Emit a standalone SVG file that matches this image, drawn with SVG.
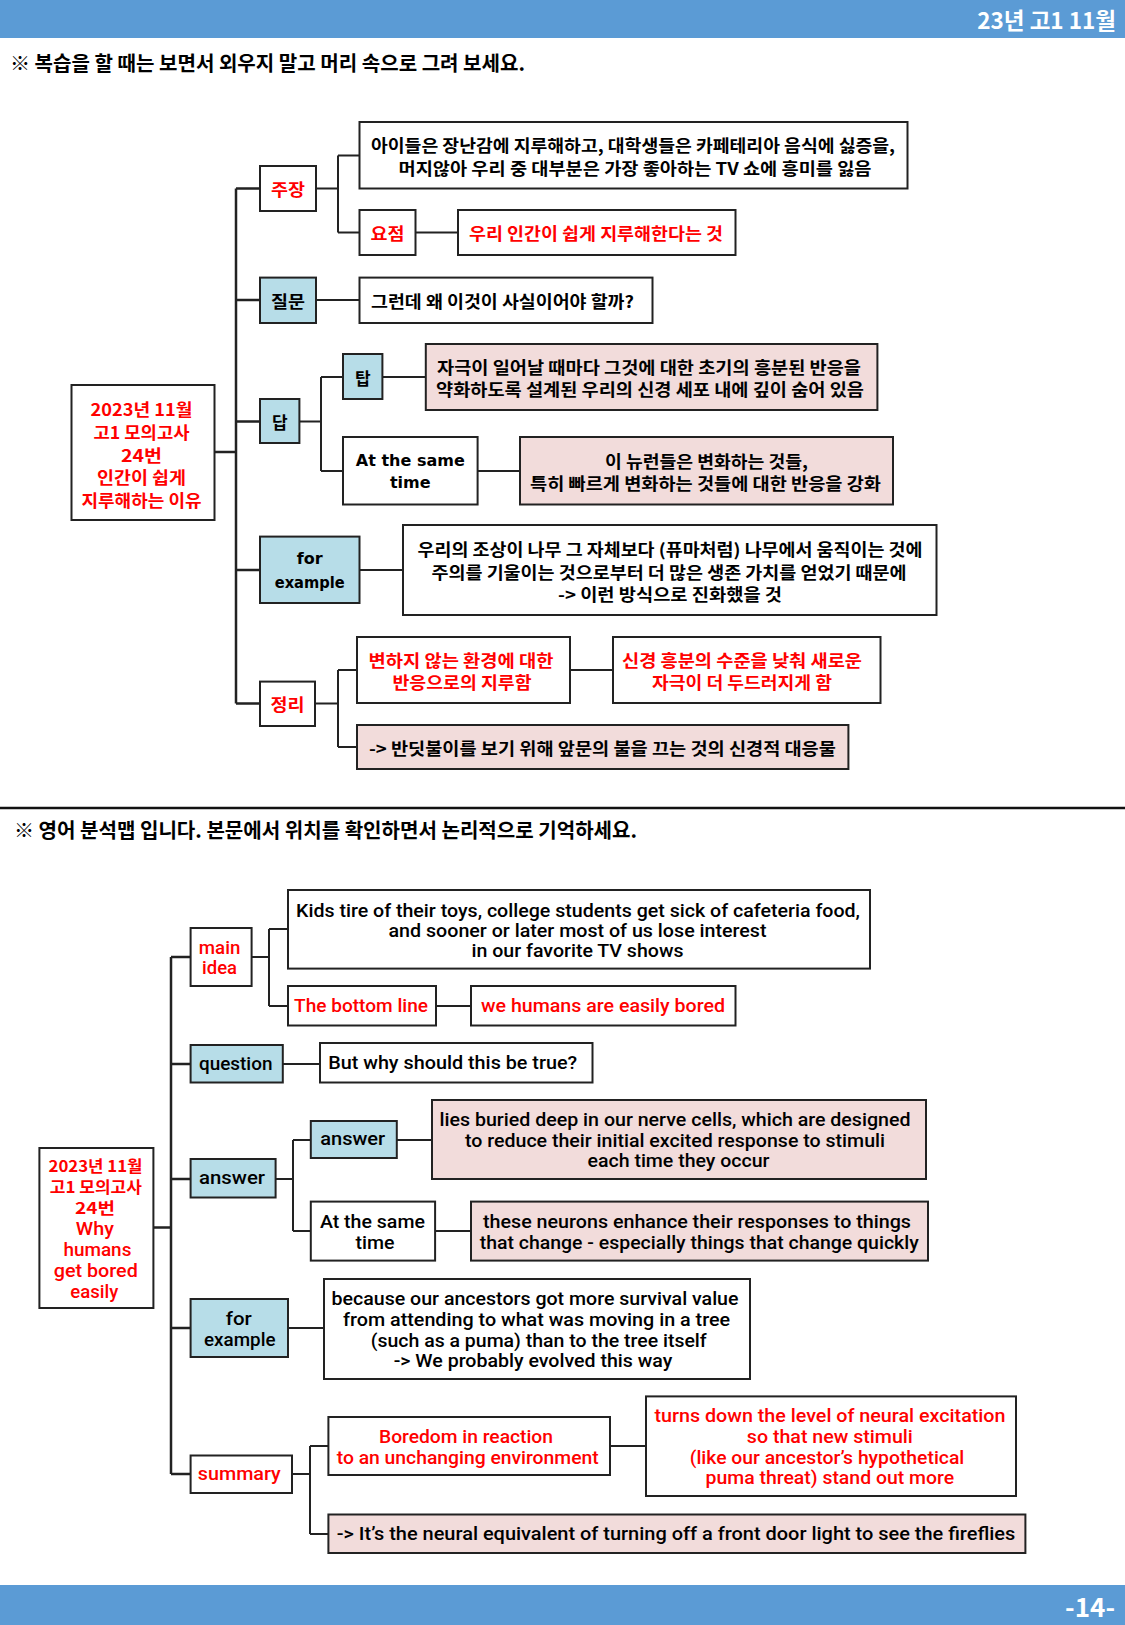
<svg xmlns="http://www.w3.org/2000/svg" width="1125" height="1625" viewBox="0 0 1125 1625">
<style>
.b{fill:#fff;stroke:#222;stroke-width:2}
.bl{fill:#B7DDE8}
.pk{fill:#F2DCDB}
.t{font-family:"Noto Sans CJK KR","Noto Sans",sans-serif;font-weight:700;font-size:17px;text-anchor:middle;dominant-baseline:central;fill:#000}
.e{font-family:Roboto,"Noto Sans","Noto Sans CJK KR",sans-serif;font-weight:500;font-size:18.5px;text-anchor:middle;dominant-baseline:central;fill:#000}
.c{font-family:"DejaVu Sans",sans-serif;font-weight:700;font-size:16px;text-anchor:middle;dominant-baseline:central;fill:#000}
.r{fill:#FF0000}
.cn{stroke:#222;stroke-width:2;fill:none}
.hd{font-family:"Noto Sans CJK KR",sans-serif;font-weight:700;fill:#000}
</style>
<rect x="0" y="0" width="1125" height="38" fill="#5B9BD5"/>
<text x="1116" y="19" class="hd" style="fill:#fff;font-size:22.5px;text-anchor:end;dominant-baseline:central">23년 고1 11월</text>
<text x="10" y="62" class="hd" style="font-size:20px;dominant-baseline:central" textLength="515" lengthAdjust="spacingAndGlyphs">※ 복습을 할 때는 보면서 외우지 말고 머리 속으로 그려 보세요.</text>

<g id="connectors">
<path class="cn" d="M214.5 452H236M236 188.5V703.5M236 188.5H260M236 300H260M236 421.6H260M236 570H260M236 703.5H260" style="stroke-width:2.5"/>
<path class="cn" d="M316 188.5H338M338 155.4V232.5M338 155.4H359.5M338 232.5H359.5M415.5 232.5H458"/>
<path class="cn" d="M316 300H359.5"/>
<path class="cn" d="M299.4 421.6H321M321 377V471M321 377H343M321 471H343M382.4 377H425.8M477.6 471H520"/>
<path class="cn" d="M359.5 570H403"/>
<path class="cn" d="M315 703.5H338M338 670V747M338 670H357M338 747H357M570 670H613"/>
<line x1="0" y1="808" x2="1125" y2="808" stroke="#111" stroke-width="2.5"/>
<path class="cn" d="M153.3 1227.5H171M171 957V1474M171 957H190.6M171 1064H190.6M171 1179H190.6M171 1328H190.6M171 1474H190.6" style="stroke-width:2.5"/>
<path class="cn" d="M251.7 957H269M269 929V1006M269 929H288M269 1006H288M436 1006H471"/>
<path class="cn" d="M282.8 1064H320"/>
<path class="cn" d="M275.5 1179H293M293 1140V1231M293 1140H310.8M293 1231H310.8M396.7 1140H432M435 1231H471"/>
<path class="cn" d="M288 1328H324"/>
<path class="cn" d="M292 1474H310M310 1446V1534M310 1446H328.4M310 1534H328.4M610 1446H646"/>
</g>

<g id="root1"><rect class="b" x="71.5" y="385" width="143" height="135"/>
<text class="t r" x="141.5" y="408" textLength="102" lengthAdjust="spacingAndGlyphs">2023년 11월</text><text class="t r" x="141.5" y="431" textLength="96" lengthAdjust="spacingAndGlyphs">고1 모의고사</text><text class="t r" x="141.5" y="454" textLength="41" lengthAdjust="spacingAndGlyphs">24번</text><text class="t r" x="141.5" y="476.5" textLength="89" lengthAdjust="spacingAndGlyphs">인간이 쉽게</text><text class="t r" x="141.5" y="499" textLength="120" lengthAdjust="spacingAndGlyphs">지루해하는 이유</text></g>

<g id="n-jujang"><rect class="b" x="260" y="166" width="56" height="45"/><text class="t r" x="288" y="188.5" textLength="34" lengthAdjust="spacingAndGlyphs">주장</text></g>
<g id="n-jujang-1"><rect class="b" x="359.5" y="122" width="548" height="66.5"/>
<text class="t" x="633" y="144" textLength="524" lengthAdjust="spacingAndGlyphs">아이들은 장난감에 지루해하고, 대학생들은 카페테리아 음식에 싫증을,</text><text class="t" x="635" y="167" textLength="473" lengthAdjust="spacingAndGlyphs">머지않아 우리 중 대부분은 가장 좋아하는 TV 쇼에 흥미를 잃음</text></g>
<g id="n-yojeom"><rect class="b" x="359.5" y="210" width="56" height="45"/><text class="t r" x="387.5" y="232.5" textLength="34" lengthAdjust="spacingAndGlyphs">요점</text></g>
<g id="n-yojeom-1"><rect class="b" x="458" y="210" width="277.5" height="45"/><text class="t r" x="596" y="232.5" textLength="254" lengthAdjust="spacingAndGlyphs">우리 인간이 쉽게 지루해한다는 것</text></g>

<g id="n-jilmun"><rect class="b bl" x="260" y="277.6" width="56" height="45.4"/><text class="t" x="288" y="300" textLength="34" lengthAdjust="spacingAndGlyphs">질문</text></g>
<g id="n-jilmun-1"><rect class="b" x="359.5" y="277.6" width="293" height="45.4"/><text class="t" x="502.5" y="300" textLength="263" lengthAdjust="spacingAndGlyphs">그런데 왜 이것이 사실이어야 할까?</text></g>

<g id="n-dap"><rect class="b bl" x="260" y="399" width="39.4" height="44"/><text class="t" x="279.7" y="421.6">답</text></g>
<g id="n-tap"><rect class="b bl" x="343" y="354" width="39.4" height="45"/><text class="t" x="362.7" y="377">탑</text></g>
<g id="n-tap-1"><rect class="b pk" x="425.8" y="344" width="451.6" height="66"/>
<text class="t" x="649" y="366" textLength="424" lengthAdjust="spacingAndGlyphs">자극이 일어날 때마다 그것에 대한 초기의 흥분된 반응을</text><text class="t" x="650" y="388.6" textLength="428" lengthAdjust="spacingAndGlyphs">약화하도록 설계된 우리의 신경 세포 내에 깊이 숨어 있음</text></g>
<g id="n-same1"><rect class="b" x="343" y="437" width="134.6" height="67.5"/>
<text class="c" x="410.3" y="460">At the same</text><text class="c" x="410.3" y="482.7">time</text></g>
<g id="n-same1-1"><rect class="b pk" x="520" y="437" width="373" height="67.5"/>
<text class="t" x="706.5" y="460" textLength="203" lengthAdjust="spacingAndGlyphs">이 뉴런들은 변화하는 것들,</text><text class="t" x="705.5" y="482.7" textLength="351" lengthAdjust="spacingAndGlyphs">특히 빠르게 변화하는 것들에 대한 반응을 강화</text></g>

<g id="n-ex1"><rect class="b bl" x="260" y="536.6" width="99.5" height="66.4"/>
<text class="c" x="309.7" y="558.5">for</text><text class="c" x="309.7" y="582" textLength="70" lengthAdjust="spacingAndGlyphs">example</text></g>
<g id="n-ex1-1"><rect class="b" x="403" y="525" width="533.5" height="90"/>
<text class="t" x="670" y="548" textLength="505" lengthAdjust="spacingAndGlyphs">우리의 조상이 나무 그 자체보다 (퓨마처럼) 나무에서 움직이는 것에</text><text class="t" x="669" y="571" textLength="475" lengthAdjust="spacingAndGlyphs">주의를 기울이는 것으로부터 더 많은 생존 가치를 얻었기 때문에</text><text class="t" x="670" y="593.6" textLength="224" lengthAdjust="spacingAndGlyphs">-&gt; 이런 방식으로 진화했을 것</text></g>

<g id="n-jeongri"><rect class="b" x="260" y="681.6" width="55" height="44.4"/><text class="t r" x="287.5" y="703.5" textLength="34" lengthAdjust="spacingAndGlyphs">정리</text></g>
<g id="n-jeongri-1"><rect class="b" x="357" y="637" width="213" height="66"/>
<text class="t r" x="461" y="659" textLength="185" lengthAdjust="spacingAndGlyphs">변하지 않는 환경에 대한</text><text class="t r" x="462" y="681.6" textLength="139" lengthAdjust="spacingAndGlyphs">반응으로의 지루함</text></g>
<g id="n-jeongri-2"><rect class="b" x="613" y="637" width="267.5" height="66"/>
<text class="t r" x="742" y="659" textLength="240" lengthAdjust="spacingAndGlyphs">신경 흥분의 수준을 낮춰 새로운</text><text class="t r" x="742" y="681.6" textLength="180" lengthAdjust="spacingAndGlyphs">자극이 더 두드러지게 함</text></g>
<g id="n-jeongri-3"><rect class="b pk" x="357" y="725" width="491.4" height="44"/><text class="t" x="602.4" y="747" textLength="467" lengthAdjust="spacingAndGlyphs">-&gt; 반딧불이를 보기 위해 앞문의 불을 끄는 것의 신경적 대응물</text></g>

<text x="14" y="829" class="hd" style="font-size:20px;dominant-baseline:central" textLength="623" lengthAdjust="spacingAndGlyphs">※ 영어 분석맵 입니다. 본문에서 위치를 확인하면서 논리적으로 기억하세요.</text>

<g id="root2"><rect class="b" x="39.4" y="1148" width="114" height="160"/>
<text class="t r" x="95.5" y="1165" style="font-size:16px" textLength="94" lengthAdjust="spacingAndGlyphs">2023년 11월</text><text class="t r" x="95.8" y="1186.2" style="font-size:16px" textLength="92" lengthAdjust="spacingAndGlyphs">고1 모의고사</text><text class="t r" x="95" y="1207.4" style="font-size:16px" textLength="40" lengthAdjust="spacingAndGlyphs">24번</text><text class="e r" x="94.8" y="1228.6" style="font-size:17.5px" textLength="38" lengthAdjust="spacingAndGlyphs">Why</text><text class="e r" x="97.4" y="1249.8" style="font-size:17.5px" textLength="68" lengthAdjust="spacingAndGlyphs">humans</text><text class="e r" x="95.8" y="1271" style="font-size:17.5px" textLength="84" lengthAdjust="spacingAndGlyphs">get bored</text><text class="e r" x="94.3" y="1292.2" style="font-size:17.5px" textLength="48" lengthAdjust="spacingAndGlyphs">easily</text></g>

<g id="n-main"><rect class="b" x="190.6" y="928" width="61" height="58"/><text class="e r" x="219.6" y="948" textLength="41.5" lengthAdjust="spacingAndGlyphs">main</text><text class="e r" x="219.6" y="968" textLength="35" lengthAdjust="spacingAndGlyphs">idea</text></g>
<g id="n-main-1"><rect class="b" x="288" y="890" width="582" height="78.6"/>
<text class="e" x="578" y="910.6" textLength="564" lengthAdjust="spacingAndGlyphs">Kids tire of their toys, college students get sick of cafeteria food,</text><text class="e" x="577.5" y="930.5" textLength="378" lengthAdjust="spacingAndGlyphs">and sooner or later most of us lose interest</text><text class="e" x="577.5" y="951" textLength="212" lengthAdjust="spacingAndGlyphs">in our favorite TV shows</text></g>
<g id="n-bottom"><rect class="b" x="288" y="986" width="148" height="39.5"/><text class="e r" x="361" y="1006" textLength="134" lengthAdjust="spacingAndGlyphs">The bottom line</text></g>
<g id="n-bottom-1"><rect class="b" x="471" y="986" width="264.5" height="39.5"/><text class="e r" x="603" y="1006" textLength="244" lengthAdjust="spacingAndGlyphs">we humans are easily bored</text></g>

<g id="n-question"><rect class="b bl" x="190.6" y="1045" width="92.2" height="37.5"/><text class="e" x="235.7" y="1064" textLength="73.5" lengthAdjust="spacingAndGlyphs">question</text></g>
<g id="n-question-1"><rect class="b" x="320" y="1043" width="272.5" height="39.5"/><text class="e" x="452.7" y="1063" textLength="249" lengthAdjust="spacingAndGlyphs">But why should this be true?</text></g>

<g id="n-answer"><rect class="b bl" x="190.6" y="1159" width="85" height="38.5"/><text class="e" x="232" y="1178" textLength="66" lengthAdjust="spacingAndGlyphs">answer</text></g>
<g id="n-answer2"><rect class="b bl" x="310.8" y="1121" width="86" height="37"/><text class="e" x="352.7" y="1139" textLength="65" lengthAdjust="spacingAndGlyphs">answer</text></g>
<g id="n-answer2-1"><rect class="b pk" x="432" y="1100" width="494" height="79"/>
<text class="e" x="675" y="1120" textLength="471" lengthAdjust="spacingAndGlyphs">lies buried deep in our nerve cells, which are designed</text><text class="e" x="675" y="1140.5" textLength="420" lengthAdjust="spacingAndGlyphs">to reduce their initial excited response to stimuli</text><text class="e" x="678.5" y="1161" textLength="182" lengthAdjust="spacingAndGlyphs">each time they occur</text></g>
<g id="n-same2"><rect class="b" x="310.8" y="1201.6" width="124.3" height="59"/><text class="e" x="372.4" y="1222" textLength="105" lengthAdjust="spacingAndGlyphs">At the same</text><text class="e" x="375" y="1243" textLength="39" lengthAdjust="spacingAndGlyphs">time</text></g>
<g id="n-same2-1"><rect class="b pk" x="471" y="1201.6" width="457" height="59"/>
<text class="e" x="697" y="1222" textLength="428" lengthAdjust="spacingAndGlyphs">these neurons enhance their responses to things</text><text class="e" x="699.2" y="1243" textLength="439" lengthAdjust="spacingAndGlyphs">that change - especially things that change quickly</text></g>

<g id="n-ex2"><rect class="b bl" x="190.6" y="1299" width="97.4" height="58"/><text class="e" x="238.8" y="1318.5" textLength="26" lengthAdjust="spacingAndGlyphs">for</text><text class="e" x="239.8" y="1340" textLength="71.5" lengthAdjust="spacingAndGlyphs">example</text></g>
<g id="n-ex2-1"><rect class="b" x="324" y="1279" width="426" height="100"/>
<text class="e" x="535" y="1299" textLength="407" lengthAdjust="spacingAndGlyphs">because our ancestors got more survival value</text><text class="e" x="536.6" y="1320" textLength="387" lengthAdjust="spacingAndGlyphs">from attending to what was moving in a tree</text><text class="e" x="538.7" y="1340.5" textLength="336" lengthAdjust="spacingAndGlyphs">(such as a puma) than to the tree itself</text><text class="e" x="533" y="1361" textLength="278.6" lengthAdjust="spacingAndGlyphs">-&gt; We probably evolved this way</text></g>

<g id="n-summary"><rect class="b" x="190.6" y="1455.5" width="101.4" height="37.5"/><text class="e r" x="239.3" y="1474" textLength="83" lengthAdjust="spacingAndGlyphs">summary</text></g>
<g id="n-summary-1"><rect class="b" x="328.4" y="1417" width="281.6" height="58"/>
<text class="e r" x="466" y="1437" textLength="174" lengthAdjust="spacingAndGlyphs">Boredom in reaction</text><text class="e r" x="467.7" y="1457.6" textLength="262" lengthAdjust="spacingAndGlyphs">to an unchanging environment</text></g>
<g id="n-summary-2"><rect class="b" x="646" y="1396.4" width="370" height="99.6"/>
<text class="e r" x="830" y="1416" textLength="351" lengthAdjust="spacingAndGlyphs">turns down the level of neural excitation</text><text class="e r" x="829.8" y="1437" textLength="166" lengthAdjust="spacingAndGlyphs">so that new stimuli</text><text class="e r" x="827" y="1457.6" textLength="274.5" lengthAdjust="spacingAndGlyphs">(like our ancestor’s hypothetical</text><text class="e r" x="829.8" y="1478" textLength="248.6" lengthAdjust="spacingAndGlyphs">puma threat) stand out more</text></g>
<g id="n-summary-3"><rect class="b pk" x="328.4" y="1514.5" width="697" height="38.5"/><text class="e" x="676" y="1534" textLength="678.5" lengthAdjust="spacingAndGlyphs">-&gt; It’s the neural equivalent of turning off a front door light to see the fireflies</text></g>

<rect x="0" y="1585" width="1125" height="40" fill="#5B9BD5"/>
<text x="1115" y="1605" class="hd" style="fill:#fff;font-size:26px;text-anchor:end;dominant-baseline:central">-14-</text>
</svg>
